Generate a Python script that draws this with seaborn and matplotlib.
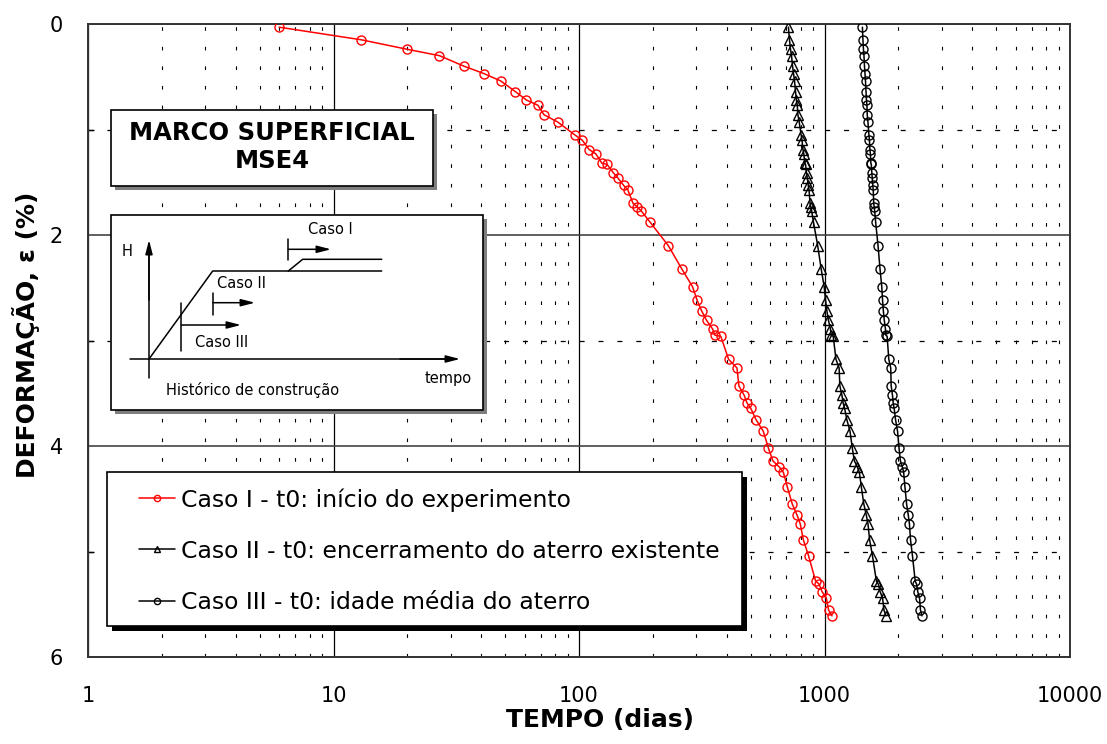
import numpy as np
import pandas as pd
import matplotlib
matplotlib.use("Agg")
import matplotlib.pyplot as plt
import seaborn as sns
from matplotlib.patches import Rectangle
from matplotlib.lines import Line2D
from matplotlib.ticker import LogLocator, NullFormatter, FixedLocator, FixedFormatter, MultipleLocator

# ---------------- data ----------------
eps = [0.03, 0.15, 0.24, 0.30, 0.40, 0.47, 0.54, 0.64, 0.72, 0.77,
       0.86, 0.93, 1.05, 1.10, 1.19, 1.23, 1.32, 1.33, 1.41, 1.46,
       1.53, 1.57, 1.70, 1.73, 1.77, 1.88, 2.10, 2.32, 2.49, 2.62,
       2.72, 2.81, 2.89, 2.95, 2.96, 3.18, 3.26, 3.43, 3.52, 3.59,
       3.64, 3.75, 3.86, 4.02, 4.14, 4.20, 4.25, 4.385, 4.55, 4.655,
       4.74, 4.89, 5.04, 5.28, 5.31, 5.38, 5.44, 5.555, 5.61]

t_caso1 = [6, 13, 20, 27, 34, 41, 48, 55, 61, 68,
           72, 82, 96, 103, 110, 117, 124, 130, 138, 144,
           152, 158, 166, 172, 179, 195, 231, 262, 290, 303,
           316, 331, 350, 358, 378, 407, 440, 448, 471, 483,
           500, 526, 563, 591, 616, 655, 680, 705, 739, 773,
           797, 820, 861, 920, 951, 977, 1017, 1039, 1073]

t_caso2 = [713, 720, 727, 734, 741, 748, 755, 762, 768, 775,
           779, 789, 803, 810, 817, 824, 831, 837, 845, 851,
           859, 865, 873, 879, 886, 902, 938, 969, 997, 1010,
           1023, 1038, 1057, 1065, 1085, 1114, 1147, 1155, 1178, 1190,
           1207, 1233, 1270, 1298, 1323, 1362, 1387, 1412, 1446, 1480,
           1504, 1527, 1568, 1627, 1658, 1684, 1724, 1746, 1780]

t_caso3 = [1427, 1434, 1441, 1448, 1455, 1462, 1469, 1476, 1482, 1489,
           1493, 1503, 1517, 1524, 1531, 1538, 1545, 1551, 1559, 1565,
           1573, 1579, 1587, 1593, 1600, 1616, 1652, 1683, 1711, 1724,
           1737, 1752, 1771, 1779, 1799, 1828, 1861, 1869, 1892, 1904,
           1921, 1947, 1984, 2012, 2037, 2076, 2101, 2126, 2160, 2194,
           2218, 2241, 2282, 2341, 2372, 2398, 2438, 2460, 2494]

labels = ["Caso I - t0: início do experimento",
          "Caso II - t0: encerramento do aterro existente",
          "Caso III - t0: idade média do aterro"]

x_ticks = [1, 10, 100, 1000, 10000]
x_ticklabels = ["1", "10", "100", "1000", "10000"]
y_ticks = [0, 2, 4, 6]
y_ticklabels = ["0", "2", "4", "6"]

# ---------------- style ----------------
sns.set_theme(style="white")
plt.rcParams["font.family"] = ["DejaVu Sans"]
plt.rcParams["lines.scale_dashes"] = False
plt.rcParams["text.color"] = "black"
plt.rcParams["axes.labelcolor"] = "black"
plt.rcParams["xtick.color"] = "black"
plt.rcParams["ytick.color"] = "black"

W, H = 1107, 744
fig = plt.figure(figsize=(W / 100, H / 100), dpi=100)
fig.patch.set_facecolor("white")


def fx(x):
    return x / W


def fy(y):
    return 1 - y / H


ax = fig.add_axes([fx(88), fy(657), fx(1070) - fx(88), fy(24) - fy(657)])
ax.set_facecolor("white")

series = [
    (t_caso1, "red", "o"),
    (t_caso2, "black", "^"),
    (t_caso3, "black", "o"),
]
for (t, col, mk), lab in zip(series, labels):
    df = pd.DataFrame({"t": t, "eps": eps})
    sns.lineplot(data=df, x="t", y="eps", ax=ax, sort=False, estimator=None,
                 color=col, lw=1.1, marker=mk, markersize=6.5,
                 markerfacecolor="none", markeredgecolor=col, markeredgewidth=1.0,
                 label=lab, legend=False, zorder=3)

ax.set_xscale("log")
ax.set_xlim(1, 10000)
ax.set_ylim(6, 0)
ax.xaxis.set_major_locator(FixedLocator(x_ticks))
ax.xaxis.set_major_formatter(FixedFormatter(x_ticklabels))
ax.xaxis.set_minor_locator(LogLocator(base=10, subs=np.arange(2, 10)))
ax.xaxis.set_minor_formatter(NullFormatter())
ax.yaxis.set_major_locator(FixedLocator(y_ticks))
ax.yaxis.set_major_formatter(FixedFormatter(y_ticklabels))
ax.yaxis.set_minor_locator(MultipleLocator(1))

ax.grid(which="major", axis="x", color="black", lw=0.9)
ax.grid(which="major", axis="y", color="#444444", lw=1.2)
ax.grid(which="minor", axis="x", color="black", lw=0.8, linestyle=(0, (2.6, 11.5)))
ax.grid(which="minor", axis="y", color="black", lw=0.9, linestyle=(0, (3.6, 10)))
ax.set_axisbelow(True)

ax.tick_params(axis="x", which="major", length=0, pad=21, labelsize=15, colors="black")
ax.tick_params(axis="y", which="major", length=0, pad=18, labelsize=15, colors="black")
ax.tick_params(axis="x", which="minor", length=0)
ax.tick_params(axis="y", which="minor", length=4, direction="in", width=1, color="black", left=True)

for s in ax.spines.values():
    s.set_color("#333333")
    s.set_linewidth(1.4)
    s.set_visible(True)

ax.set_xlabel("TEMPO (dias)", fontsize=18, fontweight="bold", color="black")
ax.set_ylabel("DEFORMAÇÃO, ε (%)", fontsize=18, fontweight="bold", color="black")
ax.xaxis.set_label_coords((600 - 88) / 982, (657 - 708) / 633)
ax.yaxis.set_label_coords((40 - 88) / 982, (657 - 335) / 633)


# ---------------- boxes with shadows ----------------
def box(x0, y0, x1, y1, shadow, off, z=2):
    fig.add_artist(Rectangle((fx(x0 + off), fy(y1 + off)), fx(x1 - x0), fy(y0) - fy(y1),
                             transform=fig.transFigure, facecolor=shadow,
                             edgecolor="none", zorder=z))
    fig.add_artist(Rectangle((fx(x0), fy(y1)), fx(x1 - x0), fy(y0) - fy(y1),
                             transform=fig.transFigure, facecolor="white",
                             edgecolor="black", lw=1.2, zorder=z + 0.1))


box(111, 110, 433, 186, "#7f7f7f", 4)
box(111, 215, 483, 410, "#7f7f7f", 4)
box(107, 472, 742, 626, "black", 5)

fig.text(fx(272), fy(147), "MARCO SUPERFICIAL\nMSE4", ha="center", va="center",
         fontsize=17.5, fontweight="bold", linespacing=1.25, zorder=6, color="black")

# ---------------- legend ----------------
handles = [Line2D([], [], color=c, lw=1.1, marker=m, markersize=4.5,
                  markerfacecolor="none", markeredgecolor=c, markeredgewidth=1.0)
           for (_, c, m) in series]
fig.legend(handles, labels, loc="upper left",
           bbox_to_anchor=(fx(139), fy(488)), bbox_transform=fig.transFigure,
           frameon=False, fontsize=16.9, handlelength=1.55, handletextpad=0.22,
           labelspacing=1.2, borderpad=0, borderaxespad=0, labelcolor="black")

# ---------------- construction-history sketch ----------------
axi = fig.add_axes([fx(111), fy(410), fx(483) - fx(111), fy(215) - fy(410)])
axi.set_zorder(6)
axi.patch.set_visible(False)
axi.set_xlim(111, 483)
axi.set_ylim(410, 215)
axi.axis("off")

lk = dict(color="black", lw=1.1)
ap = dict(arrowstyle="-|>,head_length=0.7,head_width=0.18", color="black", lw=1.1,
          mutation_scale=12, shrinkA=0, shrinkB=0)
# axes arrows
axi.plot([149, 149], [378, 250], **lk)
axi.annotate("", xy=(149, 240), xytext=(149, 300), arrowprops=ap)
axi.plot([130, 450], [359, 359], **lk)
axi.annotate("", xy=(460, 359), xytext=(400, 359), arrowprops=ap)
# construction history lines
axi.plot([149, 212.7, 381.7], [359, 271, 271], **lk)
axi.plot([288.3, 302.7, 381.7], [271, 259.3, 259.3], **lk)
# Caso I
axi.plot([288.3, 288.3], [239, 260], **lk)
axi.annotate("", xy=(331, 249.3), xytext=(288.3, 249.3), arrowprops=ap)
# Caso II
axi.plot([212.7, 212.7], [292.7, 315], **lk)
axi.annotate("", xy=(255, 302.7), xytext=(212.7, 302.7), arrowprops=ap)
# Caso III
axi.plot([181.3, 181.3], [303, 350.7], **lk)
axi.annotate("", xy=(241, 325), xytext=(181.3, 325), arrowprops=ap)

tk = dict(fontsize=10.5, color="black", ha="center", va="center")
axi.text(330, 230, "Caso I", **tk)
axi.text(241.7, 284, "Caso II", **tk)
axi.text(221.7, 343, "Caso III", **tk)
axi.text(127, 252, "H", **tk)
axi.text(448, 379, "tempo", **tk)
axi.text(253, 390, "Histórico de construção", **tk)

fig.savefig("out.png", dpi=100, facecolor="white")
